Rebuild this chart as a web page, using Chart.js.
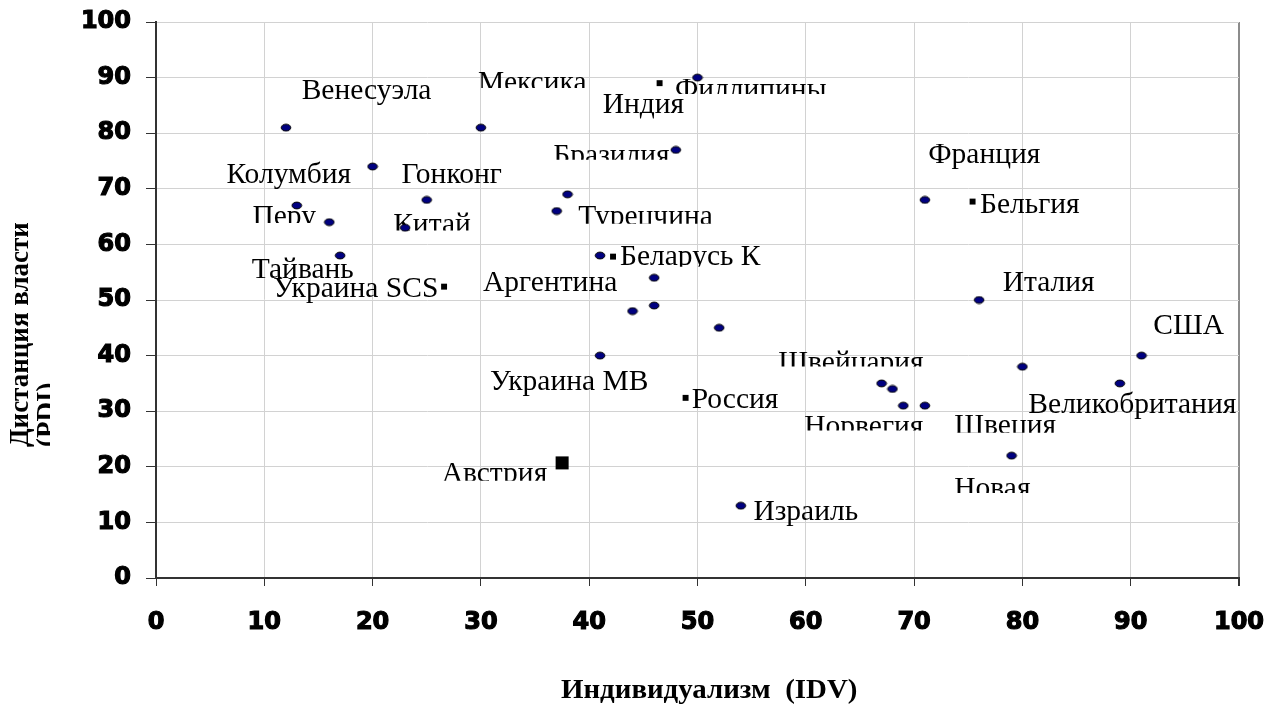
<!DOCTYPE html>
<html lang="ru">
<head>
<meta charset="utf-8">
<title>Дистанция власти / Индивидуализм</title>
<script src="https://cdn.jsdelivr.net/npm/chart.js@4.4.1/dist/chart.umd.min.js"></script>
<style>
  html, body { margin: 0; padding: 0; background: #fff; }
  #wrap { width: 1269px; height: 713px; }
</style>
</head>
<body>
<div id="wrap"><canvas id="chart" width="1269" height="713"></canvas></div>
<script>
// Countries (navy dots): individualism (IDV) and power distance (PDI)
const countryIdv = [12, 30, 20, 13, 25, 16, 23, 17, 38, 37, 50, 48, 71, 41, 46, 46, 76, 44, 52, 41, 67, 68, 69, 71, 54, 80, 91, 89, 79];
const countryPdi = [81, 81, 74, 67, 68, 64, 63, 58, 69, 66, 90, 77, 68, 58, 54, 49, 50, 48, 45, 40, 35, 34, 31, 31, 13, 38, 40, 35, 22];

// Samples (small black squares): Украина SCS, Индия, Бельгия, Беларусь К, Россия
const sampleIdv = [26.6, 46.5, 75.4, 42.2, 48.9];
const samplePdi = [52.4, 89.0, 67.7, 57.8, 32.4];

// Австрия (large square)
const austriaIdv = [37.5];
const austriaPdi = [20.7];

// Axis ticks
const tickValues = [0, 10, 20, 30, 40, 50, 60, 70, 80, 90, 100];

// Text labels as they sit on the original chart (left edge / baseline, in axis units)
const labelNames = ['Венесуэла', 'Мексика', 'Колумбия', 'Гонконг', 'Перу', 'Китай', 'Тайвань',
  'Украина SCS', 'Аргентина', 'Бразилия', 'Филлипины', 'Индия', 'Турецчина', 'Беларусь К',
  'Франция', 'Бельгия', 'Италия', 'Украина МВ', 'Россия', 'Швейцария', 'Норвегия', 'Швеция',
  'Новая', 'Израиль', 'Австрия', 'США', 'Великобритания'];
const labelIdv = [13.45, 29.74, 6.5, 22.66, 8.9, 21.9, 8.84, 10.83, 30.2, 36.69, 47.92, 41.25, 39.0, 42.84,
  71.31, 76.08, 78.18, 30.84, 49.46, 57.46, 59.86, 73.71, 73.71, 55.16, 26.38, 92.09, 80.55];
const labelPdi = [86.15, 87.52, 71.0, 71.0, 63.4, 62.1, 54.0, 50.54, 51.55, 74.5, 86.4, 83.63, 63.45, 56.26,
  74.64, 65.65, 51.55, 33.87, 30.58, 37.19, 25.68, 25.95, 14.62, 10.49, 17.32, 43.94, 29.68];
// some text boxes are cut off at the bottom: px hidden above the baseline (null = whole text)
const labelCut = [null, 3.4, null, null, 2.4, 2.3, null, null, null, 4, 3.7, null, 1.5, -1.5,
  null, null, null, null, null, 4.8, 4.8, 1, 3.7, null, 1, null, null];

function toPoints(xs, ys) {
  return xs.map((v, i) => ({ x: v, y: ys[i] }));
}

// slightly flattened navy dot, like the Excel marker
function dotMarker() {
  const c = document.createElement('canvas');
  c.width = 12;
  c.height = 9;
  const g = c.getContext('2d');
  g.beginPath();
  g.ellipse(6, 4.5, 4.8, 3.4, 0, 0, Math.PI * 2);
  g.fillStyle = '#000080';
  g.fill();
  g.lineWidth = 1;
  g.strokeStyle = '#000';
  g.stroke();
  return c;
}

const labelPlugin = {
  id: 'countryLabels',
  beforeDatasetsDraw(chart) {
    const { ctx, scales: { x, y } } = chart;
    ctx.save();
    ctx.font = '29.5px "Liberation Serif", "Times New Roman", serif';
    ctx.fillStyle = '#000';
    ctx.textAlign = 'left';
    ctx.textBaseline = 'alphabetic';
    labelNames.forEach((name, i) => {
      const px = x.getPixelForValue(labelIdv[i]);
      const py = y.getPixelForValue(labelPdi[i]);
      ctx.save();
      if (labelCut[i] !== null) {
        ctx.beginPath();
        ctx.rect(px - 5, py - 60, 400, 60 - labelCut[i]);
        ctx.clip();
      }
      ctx.fillText(name, px, py);
      ctx.restore();
    });
    ctx.restore();
  },
  afterDraw(chart) {
    const { ctx, chartArea } = chart;
    ctx.save();
    ctx.fillStyle = '#000';
    ctx.textBaseline = 'alphabetic';
    ctx.textAlign = 'left';

    // x axis title (a little stretched, as in the original)
    ctx.save();
    ctx.font = 'bold 27px "Liberation Serif", "Times New Roman", serif';
    ctx.translate(chartArea.left + 405, chartArea.bottom + 120);
    ctx.scale(1.07, 1);
    ctx.fillText('Индивидуализм  (IDV)', 0, 0);
    ctx.restore();

    // y axis title, two lines, second one cut by its box
    ctx.save();
    ctx.font = 'bold 27px "Liberation Serif", "Times New Roman", serif';
    ctx.beginPath();
    ctx.rect(0, 0, 50, chart.height);
    ctx.clip();
    ctx.translate(28, 447);
    ctx.rotate(-Math.PI / 2);
    ctx.fillText('Дистанция власти', 0, 0);
    ctx.fillText('(PDI)', 0, 27);
    ctx.restore();

    ctx.restore();
  }
};

function gridColor(c) {
  return c.tick && c.tick.value === 100 && c.scale.axis === 'x' ? '#8c8c8c' : '#d2d2d2';
}
function gridWidth(c) {
  return c.tick && c.tick.value === 100 && c.scale.axis === 'x' ? 2 : 1;
}

const tickFont = { family: '"DejaVu Sans", Arial, sans-serif', size: 24, weight: 'bold' };

new Chart(document.getElementById('chart'), {
  type: 'scatter',
  data: {
    datasets: [
      {
        label: 'Страны',
        data: toPoints(countryIdv, countryPdi),
        pointStyle: dotMarker(),
        pointRadius: 5
      },
      {
        label: 'Выборки',
        data: toPoints(sampleIdv, samplePdi),
        pointStyle: 'rect',
        pointRadius: 4.2,
        backgroundColor: '#000',
        borderWidth: 0
      },
      {
        label: 'Австрия',
        data: toPoints(austriaIdv, austriaPdi),
        pointStyle: 'rect',
        pointRadius: 9.2,
        backgroundColor: '#000',
        borderWidth: 0
      }
    ]
  },
  options: {
    responsive: false,
    animation: false,
    devicePixelRatio: 1,
    layout: { padding: { top: 22, right: 30, left: 0, bottom: 0 } },
    plugins: {
      legend: { display: false },
      tooltip: { enabled: false }
    },
    scales: {
      x: {
        type: 'linear',
        min: 0,
        max: 100,
        afterBuildTicks: (s) => { s.ticks = tickValues.map(v => ({ value: v })); },
        ticks: { font: tickFont, color: '#000', padding: 22, autoSkip: false, maxRotation: 0,
                 textStrokeColor: '#000', textStrokeWidth: 1.2 },
        grid: { color: gridColor, lineWidth: gridWidth, tickColor: '#333', tickLength: 8 },
        border: { color: '#333', width: 2 },
        afterFit: (s) => {
          s.height = 135;
          s.paddingLeft = 0;
          s.paddingRight = 0;
        }
      },
      y: {
        type: 'linear',
        min: 0,
        max: 100,
        afterBuildTicks: (s) => { s.ticks = tickValues.map(v => ({ value: v })); },
        ticks: { font: tickFont, color: '#000', padding: 15,
                 textStrokeColor: '#000', textStrokeWidth: 1.2 },
        grid: { color: gridColor, lineWidth: gridWidth, tickColor: '#333', tickLength: 10 },
        border: { color: '#333', width: 2 },
        afterFit: (s) => {
          s.width = 156;
          s.paddingTop = 0;
          s.paddingBottom = 0;
        }
      }
    }
  },
  plugins: [labelPlugin]
});
</script>
</body>
</html>
